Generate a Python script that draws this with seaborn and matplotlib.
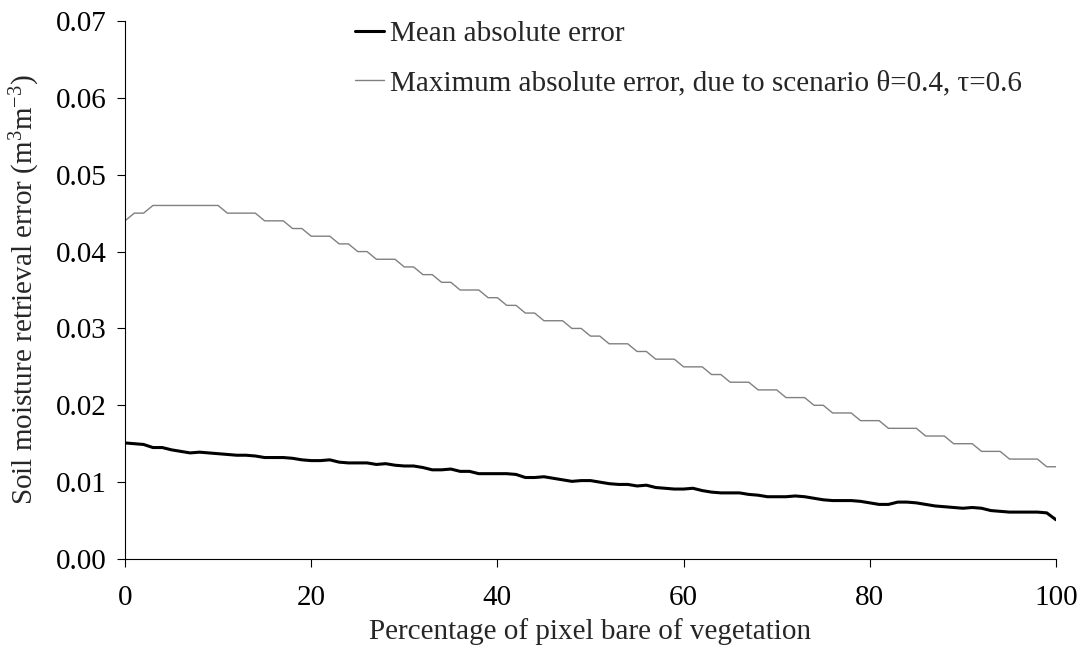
import numpy as np
import pandas as pd
import matplotlib
matplotlib.use("Agg")
import matplotlib.pyplot as plt
import seaborn as sns

# Data
pct_bare = list(range(0, 101))

mean_err = [
    0.0151, 0.0150, 0.0149, 0.0145, 0.0145, 0.0142, 0.0140, 0.0138, 0.0139, 0.0138,
    0.0137, 0.0136, 0.0135, 0.0135, 0.0134, 0.0132, 0.0132, 0.0132, 0.0131, 0.0129,
    0.0128, 0.0128, 0.0129, 0.0126, 0.0125, 0.0125, 0.0125, 0.0123, 0.0124, 0.0122,
    0.0121, 0.0121, 0.0119, 0.0116, 0.0116, 0.0117, 0.0114, 0.0114, 0.0111, 0.0111,
    0.0111, 0.0111, 0.0110, 0.0106, 0.0106, 0.0107, 0.0105, 0.0103, 0.0101, 0.0102,
    0.0102, 0.0100, 0.0098, 0.0097, 0.0097, 0.0095, 0.0096, 0.0093, 0.0092, 0.0091,
    0.0091, 0.0092, 0.0089, 0.0087, 0.0086, 0.0086, 0.0086, 0.0084, 0.0083, 0.0081,
    0.0081, 0.0081, 0.0082, 0.0081, 0.0079, 0.0077, 0.0076, 0.0076, 0.0076, 0.0075,
    0.0073, 0.0071, 0.0071, 0.0074, 0.0074, 0.0073, 0.0071, 0.0069, 0.0068, 0.0067,
    0.0066, 0.0067, 0.0066, 0.0063, 0.0062, 0.0061, 0.0061, 0.0061, 0.0061, 0.0060,
    0.0051,
]

max_err = (
    [0.044] + [0.045] * 2 + [0.046] * 8 + [0.045] * 4 + [0.044] * 3 + [0.043] * 2
    + [0.042] * 3 + [0.041] * 2 + [0.040] * 2 + [0.039] * 3 + [0.038] * 2 + [0.037] * 2
    + [0.036] * 2 + [0.035] * 3 + [0.034] * 2 + [0.033] * 2 + [0.032] * 2 + [0.031] * 3
    + [0.030] * 2 + [0.029] * 2 + [0.028] * 3 + [0.027] * 2 + [0.026] * 3 + [0.025] * 3
    + [0.024] * 2 + [0.023] * 3 + [0.022] * 3 + [0.021] * 3 + [0.020] * 2 + [0.019] * 3
    + [0.018] * 3 + [0.017] * 4 + [0.016] * 3 + [0.015] * 3 + [0.014] * 3 + [0.013] * 4
    + [0.012] * 2
)

x_ticks = [0, 20, 40, 60, 80, 100]
y_ticks = [0.00, 0.01, 0.02, 0.03, 0.04, 0.05, 0.06, 0.07]

labels = ["Mean absolute error",
          "Maximum absolute error, due to scenario \u03b8=0.4, \u03c4=0.6"]

df = pd.DataFrame({"pct": pct_bare, "mean": mean_err, "max": max_err})

sns.set_style("ticks")
plt.rcParams["font.family"] = ["Liberation Serif", "DejaVu Serif"]
plt.rcParams["mathtext.fontset"] = "custom"
plt.rcParams["mathtext.rm"] = "Liberation Serif"
plt.rcParams["mathtext.it"] = "Liberation Serif:italic"

fs = 21

fig = plt.figure(figsize=(10.84, 6.57), dpi=100)
ax = fig.add_axes([0.1153, 0.1492, 0.8589, 0.8188])

sns.lineplot(data=df, x="pct", y="mean", ax=ax, color="black", linewidth=2.2, label=labels[0])
sns.lineplot(data=df, x="pct", y="max", ax=ax, color="#808080", linewidth=1.0, label=labels[1])

ax.set_xlim(0, 100)
ax.set_ylim(0, 0.07)
ax.set_xticks(x_ticks)
ax.set_yticks(y_ticks)
ax.set_yticklabels([f"{v:.2f}" for v in y_ticks])
ax.tick_params(axis="both", direction="out", length=6, width=0.8, colors="black",
               labelsize=fs)
ax.tick_params(axis="x", pad=13)
ax.tick_params(axis="y", pad=7)
sns.despine(ax=ax)
for s in ["left", "bottom"]:
    ax.spines[s].set_color("black")
    ax.spines[s].set_linewidth(0.8)

ax.set_xlabel("Percentage of pixel bare of vegetation", fontsize=fs, labelpad=5)
ax.set_ylabel("Soil moisture retrieval error (m$^{3}$m$^{-3}$)", fontsize=fs, labelpad=10)

leg = ax.legend(loc="upper left", bbox_to_anchor=(0.219, 1.05), frameon=False,
                fontsize=fs, handlelength=1.0, handletextpad=0.2, labelspacing=0.8)

fig.savefig("out.png", dpi=100)
